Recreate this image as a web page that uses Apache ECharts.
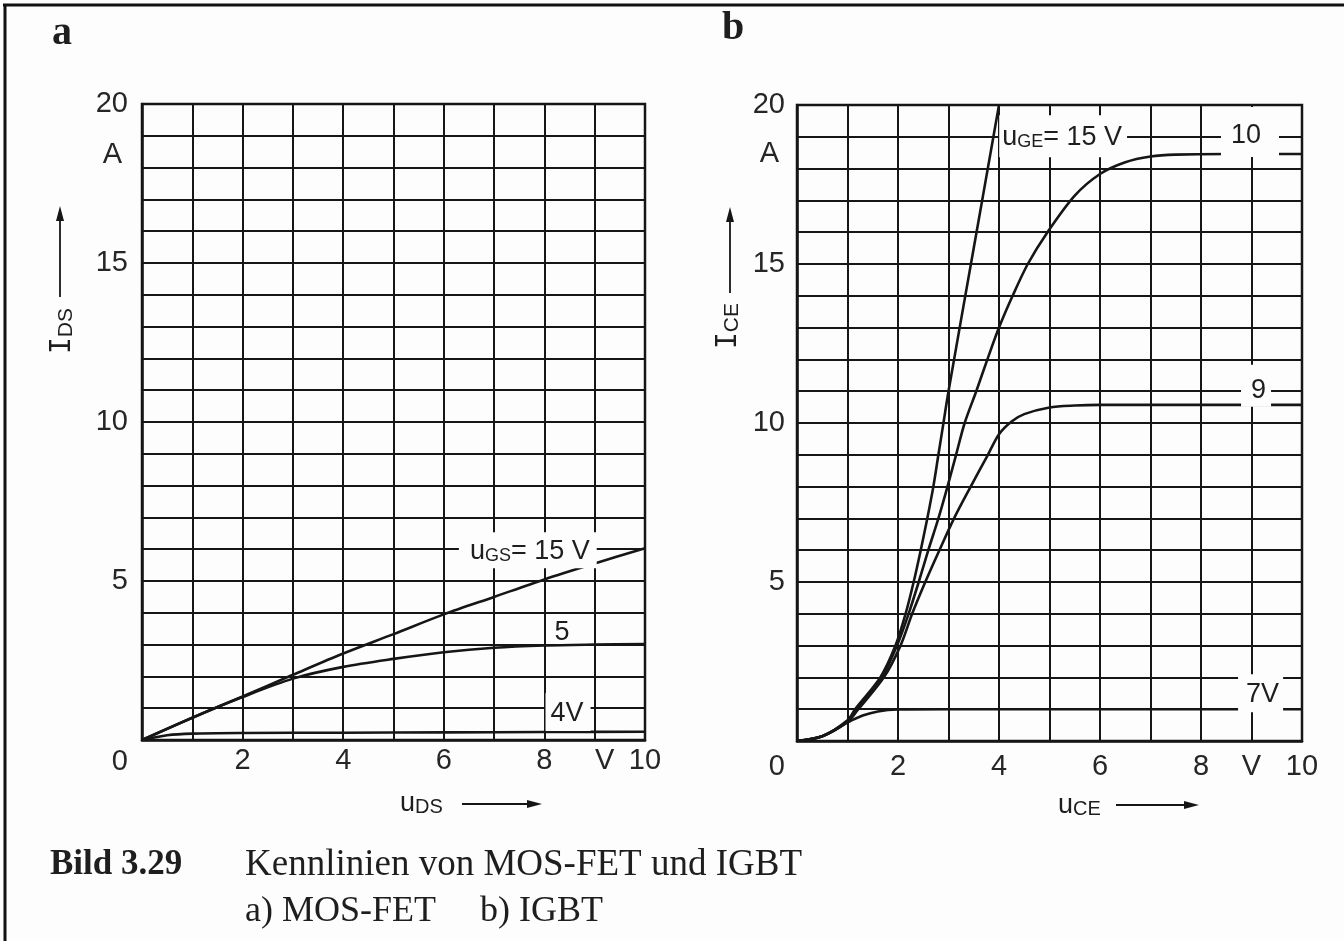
<!DOCTYPE html>
<html><head><meta charset="utf-8">
<script src="https://cdn.jsdelivr.net/npm/echarts@6/dist/echarts.min.js"></script>
<style>html,body{margin:0;padding:0;background:#fdfdfd}#c{width:1344px;height:941px}</style>
</head><body><div id="c"></div>
<script>
// ---- tick labels ----
const xTickLabels = {2:'2', 4:'4', 6:'6', 8:'8', 9:'V', 10:'10'};
const yTickLabels = {20:'20', 18:'A', 15:'15', 10:'10', 5:'5', 0:'0'};

// ---- a) MOS-FET: I_DS (A) vs u_DS (V) ----
const mos15 = [[0,0],[1,0.7],[2,1.37],[3,2.05],[4,2.72],[5,3.33],[6,3.95],[7,4.5],[8,5.05],[9,5.55],[10,6.03]];
const mos5  = [[0,0],[1,0.7],[2,1.35],[3,1.93],[4,2.3],[5,2.55],[6,2.76],[7,2.9],[8,2.97],[9,3.0],[10,3.02]];
const mos4  = [[0,0],[0.5,0.15],[1,0.2],[2,0.22],[4,0.23],[6,0.24],[8,0.25],[10,0.26]];

// ---- b) IGBT: I_CE (A) vs u_CE (V) ----
const igbt15 = [[0,0],[0.5,0.15],[1,0.65],[1.15,1],[1.65,2],[1.95,3],[2.15,4],[2.31,5],[2.45,6],[2.58,7],[2.7,8],[2.8,9],[2.9,10],[3.0,11],[3.5,15.5],[4,20]];
const igbt10 = [[0,0],[0.5,0.15],[1,0.62],[1.15,0.95],[1.68,2],[1.98,3],[2.21,4],[2.41,5],[2.6,6],[2.8,7],[2.98,8],[3.15,9],[3.32,10],[3.55,11],[3.77,12],[4.0,13],[4.27,14],[4.57,15],[4.96,16],[5.5,17.15],[6.0,17.83],[6.5,18.2],[7.0,18.38],[7.5,18.44],[8.5,18.46],[10,18.46]];
const igbt9  = [[0,0],[0.5,0.15],[1,0.6],[1.19,0.95],[1.72,2],[2.05,3],[2.28,4],[2.54,5],[2.82,6],[3.11,7],[3.44,8],[3.78,9],[4.0,9.65],[4.25,10.05],[4.5,10.28],[5.0,10.49],[5.5,10.55],[6,10.57],[10,10.57]];
const igbt7  = [[0,0],[0.5,0.15],[1,0.58],[1.3,0.8],[1.6,0.93],[2,0.99],[3,1.0],[10,1.0]];

// ---- curve annotations: [x, y, main, subscript, rest] ----
const annotA = [[7.67,5.97,'u','GS','= 15 V'],[8.35,3.43,'5'],[8.47,0.88,'4V']];
const annotB = [[5.27,19.02,'u','GE','= 15 V'],[8.97,19.15,'10'],[9.09,11.17,'9'],[9.18,1.5,'7V']];
const annotPad = {
  'GS':[3,7,3,11], '5':[0,0,0,0], '4V':[4,7,4,5],
  'GE':[6,5,6,3], '10':[12,18,8,10], '9':[9,5,3,10], '7V':[4,4,4,8]
};

const INK = '#161616';
const SANS = "'Liberation Sans', Arial, sans-serif";
const SERIF = "'Liberation Serif', 'Times New Roman', serif";
const MONO = "'DejaVu Sans Mono', 'Liberation Mono', monospace";

function xAxisCfg(gi, margin, vPad){
  return {gridIndex:gi, type:'value', min:0, max:10, interval:1,
    axisLine:{show:true, lineStyle:{color:INK, width:2.5}}, axisTick:{show:false},
    splitLine:{show:true, lineStyle:{color:INK, width:2}},
    axisLabel:{show:true, margin:margin, color:'#262626', fontFamily:SANS, fontSize:29,
      formatter:function(v){ const t = xTickLabels[v]; if(!t) return ''; return t==='V' ? '{v|V}' : t; },
      rich:{v:{fontFamily:SANS, fontSize:29, color:'#262626', padding:[0,0,0,vPad]}}}};
}
function yAxisCfg(gi, margin, zPad, aPad){
  return {gridIndex:gi, type:'value', min:0, max:20, interval:1,
    axisLine:{show:true, lineStyle:{color:INK, width:2.5}}, axisTick:{show:false},
    splitLine:{show:true, lineStyle:{color:INK, width:2}},
    axisLabel:{show:true, margin:margin, color:'#262626', fontFamily:SANS, fontSize:29,
      formatter:function(v){ const t = yTickLabels[v]; if(!t) return '';
        if(t==='0') return '{z|0}'; if(t==='A') return '{a|A}'; return t; },
      rich:{z:{fontFamily:SANS, fontSize:29, color:'#262626', padding:[zPad,0,0,0]},
            a:{fontFamily:SANS, fontSize:29, color:'#262626', padding:[0,6,aPad,0]}}}};
}
function curve(data, gi){
  return {type:'line', xAxisIndex:gi, yAxisIndex:gi, data:data, smooth:0.3,
    symbol:'none', lineStyle:{color:INK, width:2.6}, z:3, silent:true};
}
const annRich = {
  m:{fontFamily:SANS, fontSize:27, color:'#1e1e1e', lineHeight:30, verticalAlign:'bottom'},
  s:{fontFamily:SANS, fontSize:18, color:'#1e1e1e', lineHeight:10, verticalAlign:'bottom'}
};
function annSeries(list, gi){
  return {type:'scatter', xAxisIndex:gi, yAxisIndex:gi, symbolSize:1, z:6, silent:true,
    itemStyle:{color:'rgba(0,0,0,0)', opacity:1},
    data:list.map(function(a){
      const key = a[3] || a[2];
      const txt = a[3] ? '{m|'+a[2]+'}{s|'+a[3]+'}{m|'+a[4]+'}' : '{m|'+a[2]+'}';
      const pad = annotPad[key];
      return {value:[a[0],a[1]], label:{show:true, position:'inside', formatter:txt, rich:annRich,
        opacity:1, textBorderWidth:0,
        backgroundColor: key==='5' ? 'transparent' : '#fdfdfd', padding:pad}};
    })};
}

function arrow(x1,y1,x2,y2){
  const dx=x2-x1, dy=y2-y1, L=Math.sqrt(dx*dx+dy*dy), ux=dx/L, uy=dy/L, px=-uy, py=ux;
  const hl=15, hw=4;
  const bx=x2-ux*hl, by=y2-uy*hl;
  return [
    {type:'line', shape:{x1:x1,y1:y1,x2:bx,y2:by}, style:{stroke:INK, lineWidth:1.8}},
    {type:'polygon', shape:{points:[[x2,y2],[bx+px*hw,by+py*hw],[bx-px*hw,by-py*hw]]}, style:{fill:INK}}
  ];
}
function rt(x,y,text,rich,rot,align){
  return {type:'text', x:x, y:y, rotation:rot||0,
    style:{text:text, rich:rich, align:align||'left', verticalAlign:'middle', textAlign:align||'left', textVerticalAlign:'middle', fill:'#1e1e1e'}};
}
const titleRich = {
  m:{fontFamily:SANS, fontSize:27, color:'#1e1e1e', lineHeight:30, verticalAlign:'bottom'},
  s:{fontFamily:SANS, fontSize:20, color:'#1e1e1e', lineHeight:14, verticalAlign:'bottom'}
};
const ytRich = {
  i:{fontFamily:MONO, fontSize:28, color:'#1e1e1e', lineHeight:30, verticalAlign:'bottom'},
  s:{fontFamily:SANS, fontSize:21, color:'#1e1e1e', lineHeight:16, verticalAlign:'bottom'}
};
const capRich = {
  b:{fontFamily:SERIF, fontSize:35, fontWeight:'bold', color:'#141414'},
  n:{fontFamily:SERIF, fontSize:37, color:'#141414'},
  n2:{fontFamily:SERIF, fontSize:36, color:'#141414'}
};
const letterRich = {l:{fontFamily:SERIF, fontSize:40, fontWeight:'bold', color:'#141414'}};

const graphics = [
  {type:'line', shape:{x1:3,y1:5,x2:1344,y2:5}, style:{stroke:'#111', lineWidth:3}},
  {type:'line', shape:{x1:5,y1:4,x2:5,y2:941}, style:{stroke:'#111', lineWidth:3}},
  rt(62,34,'{l|a}',letterRich,0,'center'),
  rt(733,29,'{l|b}',letterRich,0,'center'),
  rt(62,331,'{i|I}{s|DS}',ytRich,Math.PI/2,'center'),
  rt(728,326,'{i|I}{s|CE}',ytRich,Math.PI/2,'center'),
  rt(400,802,'{m|u}{s|DS}',titleRich,0,'left'),
  rt(1058,804,'{m|u}{s|CE}',titleRich,0,'left'),
  rt(50,865,'{b|Bild 3.29}',capRich,0,'left'),
  rt(245,865,'{n|Kennlinien von MOS-FET und IGBT}',capRich,0,'left'),
  rt(245,912,'{n2|a) MOS-FET}',capRich,0,'left'),
  rt(480,912,'{n2|b) IGBT}',capRich,0,'left')
].concat(arrow(60,297,60,206), arrow(730,293,730,207), arrow(462,804,542,804), arrow(1116,805,1199,805));

const chart = echarts.init(document.getElementById('c'), null, {renderer:'canvas'});
chart.setOption({
  backgroundColor:'#fdfdfd',
  animation:false,
  grid:[
    {left:142, top:104, width:503, height:636, show:true, borderColor:INK, borderWidth:2.5, backgroundColor:'transparent'},
    {left:797, top:105, width:505, height:636, show:true, borderColor:INK, borderWidth:2.5, backgroundColor:'transparent'}
  ],
  xAxis:[xAxisCfg(0,6,20), xAxisCfg(1,11,0)],
  yAxis:[yAxisCfg(0,14,44,25), yAxisCfg(1,12,52,29)],
  series:[
    curve(mos15,0), curve(mos5,0), curve(mos4,0),
    curve(igbt15,1), curve(igbt10,1), curve(igbt9,1), curve(igbt7,1),
    annSeries(annotA,0), annSeries(annotB,1)
  ],
  graphic:graphics
});
</script></body></html>
